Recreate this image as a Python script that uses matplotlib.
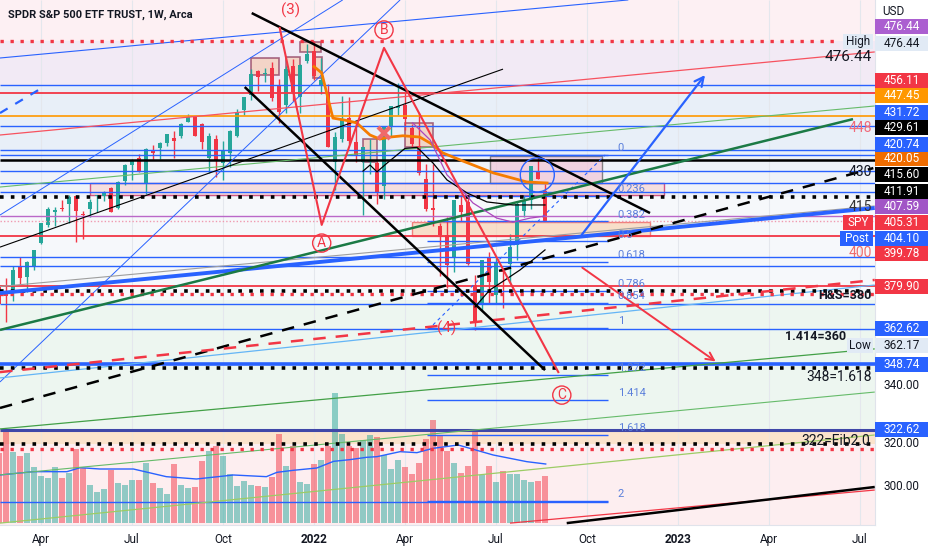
import matplotlib
matplotlib.use("Agg")
import matplotlib.pyplot as plt
import matplotlib.transforms as mtransforms
from matplotlib.patches import Rectangle, Ellipse
import numpy as np
import pandas as pd

plt.rcParams["font.family"] = ["Roboto", "DejaVu Sans"]

# ── weekly SPY bars (unadjusted), weeks 2021-02-22 .. 2022-08-22 ──────────
opens = [387.06, 385.59, 385.85, 394.33, 390.03, 394.40, 403.46, 410.85, 416.26, 417.44,
         419.43, 422.50, 415.39, 417.34, 422.57, 422.59, 424.43, 416.14, 427.17, 433.78,
         436.24, 426.19, 439.31, 440.34, 442.46, 444.53, 445.16, 450.97, 452.71, 448.64,
         434.88, 442.81, 433.00, 437.16, 443.97, 454.28, 460.30, 469.70, 468.64, 470.89,
         464.07, 456.13, 470.19, 458.00, 472.06, 476.30, 462.70, 459.74, 432.03, 441.24,
         449.51, 439.92, 431.89, 432.03, 431.55, 420.89, 444.34, 452.06, 453.13, 444.11,
         436.81, 423.67, 412.07, 405.10, 401.72, 392.83, 413.55, 414.78, 379.85, 371.89,
         391.05, 375.88, 385.85, 388.38, 395.75, 409.15, 413.78, 424.77, 417.05]
highs = [392.23, 390.92, 395.65, 398.12, 396.41, 400.67, 411.67, 417.91, 418.25, 420.72,
         422.82, 422.74, 416.39, 421.25, 422.92, 424.63, 424.76, 427.09, 434.10, 435.84,
         437.92, 440.30, 441.80, 442.94, 445.94, 447.11, 450.65, 454.05, 452.81, 448.92,
         444.89, 444.05, 441.68, 446.26, 454.67, 459.56, 470.65, 470.23, 470.94, 473.54,
         466.56, 472.00, 472.87, 470.87, 479.00, 479.98, 473.20, 463.00, 444.04, 458.12,
         457.88, 448.06, 437.84, 441.11, 432.30, 444.86, 452.98, 462.07, 457.83, 445.75,
         450.01, 429.64, 429.66, 406.41, 408.57, 415.38, 417.44, 416.61, 383.90, 390.09,
         393.16, 390.64, 386.87, 400.18, 413.03, 415.68, 427.21, 431.73, 419.96]
lows = [378.23, 372.88, 381.42, 387.15, 383.90, 392.57, 403.38, 410.20, 410.59, 416.30,
        411.67, 404.00, 405.33, 413.98, 416.28, 420.32, 414.70, 415.93, 425.55, 427.52,
        430.92, 421.97, 435.99, 436.10, 441.31, 436.41, 444.46, 450.71, 445.31, 438.46,
        428.86, 427.23, 426.36, 431.54, 443.27, 452.39, 458.20, 462.04, 465.43, 457.77,
        448.92, 453.21, 456.04, 451.65, 471.23, 464.65, 459.14, 437.95, 420.76, 439.81,
        438.94, 431.82, 410.64, 427.11, 415.12, 415.79, 440.68, 449.14, 443.47, 436.65,
        425.44, 411.21, 405.02, 385.15, 380.54, 386.96, 406.93, 389.75, 362.17, 370.18,
        372.56, 372.90, 371.04, 380.66, 389.95, 406.82, 410.22, 421.92, 405.25]
closes = [380.36, 383.63, 394.06, 389.48, 395.98, 400.61, 411.49, 417.26, 416.74, 417.30,
          422.12, 416.58, 414.94, 420.04, 422.60, 424.31, 414.92, 426.61, 433.72, 435.52,
          431.34, 439.94, 438.51, 442.49, 445.92, 443.36, 450.25, 453.08, 445.44, 441.40,
          443.91, 434.24, 437.86, 445.87, 453.12, 459.25, 468.53, 467.27, 468.89, 458.97,
          453.42, 470.74, 459.87, 470.60, 474.96, 466.09, 464.72, 437.98, 441.95, 448.70,
          440.46, 434.23, 437.75, 432.17, 420.07, 444.52, 452.69, 452.92, 447.57, 437.79,
          426.04, 412.00, 411.34, 401.72, 389.63, 415.26, 410.54, 389.80, 365.86, 390.08,
          381.24, 388.67, 385.13, 395.09, 411.99, 413.47, 427.10, 422.14, 405.31]
# weekly volume, millions
volumes = [420, 546, 424, 402, 420, 336, 280, 270, 336, 270, 298, 444, 330, 228, 184, 204,
           318, 240, 226, 258, 256, 360, 240, 210, 174, 354, 228, 210, 216, 370, 430, 460,
           402, 294, 220, 250, 228, 220, 216, 274, 534, 342, 460, 246, 234, 354, 378, 460,
           780, 534, 460, 450, 498, 528, 516, 408, 324, 378, 336, 294, 360, 504, 616, 520,
           430, 360, 300, 340, 550, 288, 342, 244, 312, 294, 294, 258, 244, 250, 280]
vol_ma_idx = [0.1, 4.9, 9.7, 11.6, 14.4, 19.2, 23.9, 28.2, 33.5, 38.2, 39.7, 42, 45.4,
              47.8, 50.1, 52.5, 54, 57.3, 59.7, 62, 65.6, 70.6, 75.4, 78.1]
vol_ma_val = [288, 308, 308, 332, 324, 324, 278, 264, 288, 278, 304, 316, 330,
              370, 380, 394, 398, 428, 422, 448, 468, 408, 368, 354]

# dividends (dividend-adjusted chart)
div_ex = ["2021-03-19", "2021-06-18", "2021-09-17", "2021-12-17", "2022-03-18", "2022-06-17"]
div_amt = [1.264, 1.376, 1.428, 1.633, 1.366, 1.577]
div_prev_close = [391.48, 421.97, 447.17, 466.45, 441.07, 366.65]

# indicator lines (bar index, price)
ema_idx = [45, 46.1, 47.7, 49.4, 51.1, 53, 54.4, 55.9, 57.7, 60.1, 61.6, 63.4, 65.9, 70.6, 75.4, 78.3]
ema_val = [466.5, 464.0, 446.1, 445.3, 444.2, 439.4, 437.8, 438.6, 439.1, 438.6, 436.2, 432.3,
           429.5, 424.4, 420.8, 420.4]
ma_black_idx = [52, 53, 54, 55.4, 58, 59.7, 60.1, 62, 64, 66.9, 69.7, 73.4, 78]
ma_black_val = [425.1, 427.5, 424.8, 428.2, 434.1, 434.5, 433.5, 428.3, 421.6, 416.4, 412.9, 411.7, 411.7]
ma_purple_idx = [59.1, 61.6, 64, 65.9, 67.7, 71.1, 73.4, 75.9, 78]
ma_purple_val = [444.2, 437.4, 423.6, 418.4, 412.5, 406.5, 404.9, 406.5, 407.3]
curve_idx = [68, 70.1, 72.3, 74.4, 76.6, 78]
curve_val = [371.3, 378.0, 382.0, 385.9, 390.7, 393.9]

# horizontal levels
blue_levels = [459.2, 443.0, 433.3, 431.6, 425.1, 420.5, 417.0, 391.0, 387.5, 372.4, 362.62]
red_levels = [456.11, 399.5, 379.8]
orange_levels = [446.8]
black_levels = [429.4]
purple_levels = [407.4]
black_dot_levels = [415.0, 377.6, 347.1, 316.9]
red_dot_levels = [376.6, 315.0]
high_level = 476.44
close_level = 405.31
support_348 = 348.74
level_322 = 322.62
level_294 = 294.2

# fib retracement
fib_levels = [0, 0.236, 0.382, 0.5, 0.618, 0.786, 0.854, 1, 1.272, 1.414, 1.618, 2]
fib_top, fib_bottom = 431.5, 363.0
fib_span = [61.1, 87.0]

# drawn trend lines: ([bar0, bar1], [price0, price1])
channel_top = ([36.1, 93.0], [487.7, 408.5])
channel_bot = ([35.1, 78.0], [458.4, 346.3])
wave_idx = [40.1, 46.1, 55.0, 79.9]
wave_val = [481.8, 403.8, 473.9, 345.5]
red_arrow = ([83.0, 102.7], [387.5, 349.1])
blue_arrow = ([83.0, 101.1], [399.0, 464.0])
green_thick = ([0.14, 122.0], [362.2, 445.7])
blue_support = ([0.14, 125.1], [376.8, 410.5])
gray_support = ([0.14, 125.1], [379.4, 411.3])
black_dashed = ([0.14, 124.9], [331.3, 426.3])
red_dashed = ([0.14, 125.1], [345.5, 382.0])
lightblue_line = ([0.14, 125.1], [343.2, 380.0])
green_a = ([0.14, 125.1], [418.8, 450.9])
green_b = ([0.14, 125.1], [323.0, 354.7])
green_c = ([0.14, 125.1], [304.8, 337.6])
olive_d = ([0.14, 125.1], [285.7, 320.6])
blue_steep_a = ([0.14, 49.1], [407.7, 492.9])
blue_steep_b = ([0.14, 57.3], [341.6, 492.9])
blue_top = ([0.14, 89.9], [469.9, 492.9])
blue_dash_tl = ([0.14, 6.1], [448.1, 458.0])
blue_dash_fib = ([62.0, 86.6], [364.2, 431.5])
black_rise = ([0.14, 72.0], [395.0, 465.5])
red_rise = ([0.14, 125.1], [439.4, 472.3])
red_bottom = ([73.0, 125.1], [285.7, 298.8])
black_bottom = ([81.1, 125.1], [285.7, 300.0])

# boxes: (bar0, bar1, price_lo, price_hi)
top_boxes = [(36, 40, 463.2, 469.9), (41, 43, 463.2, 470.3), (43, 46, 472.4, 476.4),
             (44.9, 46.1, 462.0, 470.3), (52, 54, 428.7, 437.8), (58, 62, 434.6, 444.2)]
box_gray = (70.1, 86.1, 420.4, 431.1)
box_band = (13, 95, 415.6, 420.4)
box_peach = (59, 93, 399.4, 405.0)

# price scale labels
scale_text = ["476.44", "476.44", "456.11", "447.45", "431.72", "429.61", "420.74", "420.05",
              "415.60", "411.91", "407.59", "405.31", "404.10", "399.78", "379.90", "362.62",
              "362.17", "348.74", "340.00", "320.00", "322.62", "300.00"]
scale_pos = [482.2, 475.8, 460.8, 454.9, 448.5, 442.2, 435.8, 429.9, 423.6, 417.2, 410.9,
             404.9, 398.6, 392.3, 379.6, 362.6, 356.2, 348.7, 340.0, 317.2, 322.6, 300.0]
scale_bg = ["#ab5fd0", "#e1eaf5", "#f23645", "#ff9800", "#2962ff", "#000000", "#2962ff",
            "#ef6c00", "#000000", "#000000", "#a155c6", "#f23645", "#2962ff", "#f23645",
            "#f23645", "#2962ff", "#e1eaf5", "#2962ff", None, None, "#2962ff", None]

RED, GREEN, BLUE = "#f23645", "#26a69a", "#2962ff"
TXT = "#131722"

# ── figure ─────────────────────────────────────────────────────────────────
fig = plt.figure(figsize=(9.32, 5.5), dpi=100)
fig.patch.set_facecolor("white")
ax = fig.add_axes([0, 25 / 550, 875 / 932, 525 / 550])
XL, YL = (0.143, 125.14), (284.95, 492.87)

# background zones
bg_bounds = [492.87, 476.44, 459.2, 431.5, 415.0, 374.0, 322.62, 317.0, 284.95]
bg_colors = ["#fdf0f3", "#f2eaf5", "#e8eff8", "#eff3f9", "#f6f8fb", "#edf6f0", "#fbe6d3", "#fdeef0"]
for top, bot, c in zip(bg_bounds[:-1], bg_bounds[1:], bg_colors):
    ax.axhspan(bot, top, color=c, zorder=0, lw=0)

# month grid
all_weeks = pd.date_range("2021-02-22", periods=127, freq="W-MON")
tick_idx, tick_lab = [], []
for k in range(1, len(all_weeks)):
    d, prev = all_weeks[k], all_weeks[k - 1]
    if d.month != prev.month and d.month in (1, 4, 7, 10):
        tick_idx.append(k)
        tick_lab.append(str(d.year) if d.month == 1 else d.strftime("%b"))
ax.vlines(tick_idx, *YL, colors="#e4e7ed", lw=0.8, zorder=0.5)

# boxes
for b0, b1, lo, hi in top_boxes:
    ax.add_patch(Rectangle((b0, lo), b1 - b0, hi - lo, fc="#f4cdb8", ec="#8e3b5e",
                           alpha=0.75, lw=1.2, zorder=1.5))
for (b0, b1, lo, hi), fc, ec in [(box_band, "#f8d6d3", "#c2185b"),
                                 (box_peach, "#f9d3b5", "#ef5350"),
                                 (box_gray, "#f1c4d6", "#555555")]:
    ax.add_patch(Rectangle((b0, lo), b1 - b0, hi - lo, fc=fc, ec=ec, alpha=0.7,
                           lw=1.0, zorder=1.5))
ax.axhspan(317.0, level_322, color="#fbe1c8", alpha=0.6, zorder=0.6, lw=0)

# volume overlay
idx = np.arange(len(closes))
week_start = pd.date_range("2021-02-22", periods=len(closes), freq="W-MON")
week_end = week_start + pd.Timedelta(days=4)
factor = np.ones(len(closes))
for ex, amt, prev in zip(pd.to_datetime(div_ex), div_amt, div_prev_close):
    factor[week_end < ex] *= 1 - amt / prev
o = np.array(opens) * factor
h = np.array(highs) * factor
l = np.array(lows) * factor
c = np.array(closes) * factor
col = np.where(c >= o, GREEN, RED)

vol_tf = mtransforms.Affine2D().scale(1, 1 / 3150).translate(0, 2 / 525) + ax.transAxes
vol_trans = mtransforms.blended_transform_factory(ax.transData, vol_tf)
ax.bar(idx, volumes, width=0.82, color=col, alpha=0.5, transform=vol_trans, zorder=1)
ax.plot(vol_ma_idx, vol_ma_val, color=BLUE, lw=1, transform=vol_trans, zorder=1.2)

# candles
ax.vlines(idx, l, h, colors=col, lw=1, zorder=2)
ax.bar(idx, np.maximum(np.abs(c - o), 0.4), bottom=np.minimum(o, c), width=0.64,
       color=col, zorder=2.1)

# horizontal levels
ax.hlines(blue_levels, *XL, colors=BLUE, lw=1.0, zorder=3)
ax.hlines(red_levels, *XL, colors=RED, lw=1.3, zorder=3)
ax.hlines(orange_levels, *XL, colors="#ff9800", lw=1.2, zorder=3)
ax.hlines(black_levels, *XL, colors="black", lw=1.8, zorder=3)
ax.hlines(purple_levels, *XL, colors="#ba68c8", lw=1.0, zorder=3)
ax.hlines([support_348], *XL, colors=BLUE, lw=2.6, zorder=3)
ax.hlines([level_322], *XL, colors="#3f47a8", lw=2.2, zorder=3)
ax.hlines([level_294], XL[0], fib_span[1], colors=BLUE, lw=1.0, zorder=3)
ax.hlines(black_dot_levels, *XL, colors="black", lw=2.6, linestyles=(0, (1, 2)), zorder=3.2)
ax.hlines(red_dot_levels, *XL, colors=RED, lw=2.4, linestyles=(0, (1, 2)), zorder=3.2)
ax.hlines([high_level], XL[0], 119.9, colors=RED, lw=2.4, linestyles=(0, (1, 2)), zorder=3.2)
ax.hlines([close_level], *XL, colors="#f09ab0", lw=1.0, linestyles=(0, (1, 1.5)), zorder=3)

# fib tool
fib_prices = [fib_top - lv * (fib_top - fib_bottom) for lv in fib_levels]
ax.hlines(fib_prices, *fib_span, colors=BLUE, lw=1.0, zorder=3)
for lv, fp in zip(fib_levels, fib_prices):
    ax.text(88.4, fp + 0.6, f"{lv:g}", color="#5b7fdb", fontsize=8, ha="left",
            va="bottom", zorder=5)

# trend lines
def seg(line, **kw):
    ax.plot(line[0], line[1], solid_capstyle="butt", **kw)

seg(green_a, color="#66bb6a", lw=0.8, zorder=3)
seg(green_b, color="#43a047", lw=0.9, zorder=3)
seg(green_c, color="#66bb6a", lw=0.8, zorder=3)
seg(olive_d, color="#9ccc65", lw=0.9, zorder=3)
seg(blue_steep_a, color=BLUE, lw=0.7, zorder=3)
seg(blue_steep_b, color=BLUE, lw=0.7, zorder=3)
seg(blue_top, color=BLUE, lw=0.8, zorder=3)
seg(blue_dash_tl, color=BLUE, lw=1.6, ls=(0, (4, 4)), zorder=3)
seg(blue_dash_fib, color=BLUE, lw=0.8, ls=(0, (3, 3)), zorder=3)
seg(black_rise, color="black", lw=0.8, zorder=3)
seg(red_rise, color="#f7525f", lw=0.9, zorder=3)
seg(red_bottom, color=RED, lw=0.9, zorder=3)
seg(black_bottom, color="black", lw=1.8, zorder=3.3)
seg(gray_support, color="#9e9e9e", lw=0.8, zorder=3)
seg(lightblue_line, color="#64b5f6", lw=0.9, zorder=3)
seg(blue_support, color=BLUE, lw=2.8, zorder=3.4)
seg(green_thick, color="#1b7a45", lw=1.8, zorder=3.4)
seg(black_dashed, color="black", lw=1.8, ls=(0, (5, 4)), zorder=3.4)
seg(red_dashed, color=RED, lw=1.8, ls=(0, (5, 4)), zorder=3.4)
seg(channel_top, color="black", lw=1.8, zorder=3.5)
seg(channel_bot, color="black", lw=1.8, zorder=3.5)
ax.plot(wave_idx, wave_val, color=RED, lw=1.5, zorder=3.6)

ax.plot(ema_idx, ema_val, color="#f57c00", lw=2, zorder=3.5)
ax.plot(ma_black_idx, ma_black_val, color="black", lw=0.9, zorder=3.5)
ax.plot(ma_purple_idx, ma_purple_val, color="#ab47bc", lw=0.9, zorder=3.5)
ax.plot(curve_idx, curve_val, color="black", lw=0.9, zorder=3.5)

ax.annotate("", xy=(red_arrow[0][1], red_arrow[1][1]), xytext=(red_arrow[0][0], red_arrow[1][0]),
            arrowprops=dict(arrowstyle="->", color=RED, lw=1.4, mutation_scale=14), zorder=3.6)
ax.annotate("", xy=(blue_arrow[0][1], blue_arrow[1][1]), xytext=(blue_arrow[0][0], blue_arrow[1][0]),
            arrowprops=dict(arrowstyle="->", color=BLUE, lw=1.6, mutation_scale=16), zorder=3.6)

ax.add_patch(Ellipse((76.9, 423.6), 4.86, 13.5, fc="none", ec=BLUE, lw=1.0, zorder=3.7))
ax.plot(55.0, 440.2, marker="x", ms=9, mew=3, color="#f06a6a", zorder=3.7)

# wave labels
ax.text(41.7, 488.9, "(3)", color=RED, fontsize=11, ha="center", va="center", zorder=5)
ax.text(64.0, 363.0, "(4)", color=RED, fontsize=11, ha="center", va="center", zorder=5)
for lab, xi, pv in [("B", 55.0, 481.0), ("A", 46.1, 396.6), ("C", 80.4, 336.4)]:
    ax.text(xi, pv, lab, color=RED, fontsize=10, ha="center", va="center", zorder=5,
            bbox=dict(boxstyle="circle,pad=0.15", fc="none", ec=RED, lw=1))

# right-hand annotations (bar, price, ...)
notes = [("476.44", 124.7, 470.3, 11, TXT, "normal"), ("448", 124.7, 442.2, 10, "#f06b7b", "normal"),
         ("430", 124.7, 424.8, 10, TXT, "normal"), ("415", 124.7, 410.9, 10, "#333333", "normal"),
         ("400", 124.7, 392.6, 10, "#ef6c6c", "normal"), ("H&S=380", 124.7, 376.0, 9, TXT, "bold"),
         ("1.414=360", 121.0, 359.6, 9, TXT, "bold"), ("348=1.618", 124.7, 343.6, 10, TXT, "normal"),
         ("322=Fib2.0", 124.4, 318.2, 10, TXT, "normal")]
for txt, xi, pv, fs, cc, fw in notes:
    ax.text(xi, pv, txt, fontsize=fs, color=cc, fontweight=fw, ha="right",
            va="center", zorder=5)

for txt, b0, pv, fc, tc in [("High", 120.6, 476.44, "#e1eaf5", TXT), ("SPY", 120.6, 404.9, RED, "white"),
                            ("Post", 120.1, 398.6, BLUE, "white"), ("Low", 121.1, 356.2, "#e1eaf5", TXT)]:
    ax.add_patch(Rectangle((b0, pv - 2.97), 124.9 - b0, 5.94, fc=fc, ec="none", zorder=6))
    ax.text((b0 + 124.9) / 2, pv, txt, color=tc, fontsize=8.5, ha="center", va="center", zorder=7)

ax.set_xlim(*XL)
ax.set_ylim(*YL)
ax.set_yticks([])
ax.set_xticks(tick_idx)
ax.set_xticklabels(tick_lab, fontsize=8.5, color=TXT)
for t, lab in zip(ax.get_xticklabels(), tick_lab):
    if lab.isdigit():
        t.set_fontweight("bold")
ax.tick_params(axis="x", length=0, pad=6)
for s in ["top", "left"]:
    ax.spines[s].set_visible(False)
ax.spines["bottom"].set_color("#e0e3eb")
ax.spines["right"].set_color("#e0e3eb")

# price scale
ax2 = fig.add_axes([875 / 932, 25 / 550, 57 / 932, 525 / 550])
ax2.set_xlim(0, 1)
ax2.set_ylim(*YL)
ax2.axis("off")
ax2.text(0.12, 488.2, "USD", fontsize=8.5, color=TXT, va="center")
for txt, pv, bg in zip(scale_text, scale_pos, scale_bg):
    if bg is None:
        ax2.text(0.47, pv, txt, fontsize=8.5, color=TXT, ha="center", va="center")
        continue
    fg = TXT if bg == "#e1eaf5" else "white"
    ax2.add_patch(Rectangle((0.0, pv - 2.97), 0.93, 5.94, fc=bg, ec="none"))
    ax2.text(0.47, pv, txt, fontsize=8.5, color=fg, ha="center", va="center")

fig.text(8 / 932, 1 - 15 / 550, "SPDR S&P 500 ETF TRUST, 1W, Arca", fontsize=8,
         fontweight="bold", color=TXT, ha="left", va="center")

fig.savefig("out.png", dpi=100, facecolor="white")
